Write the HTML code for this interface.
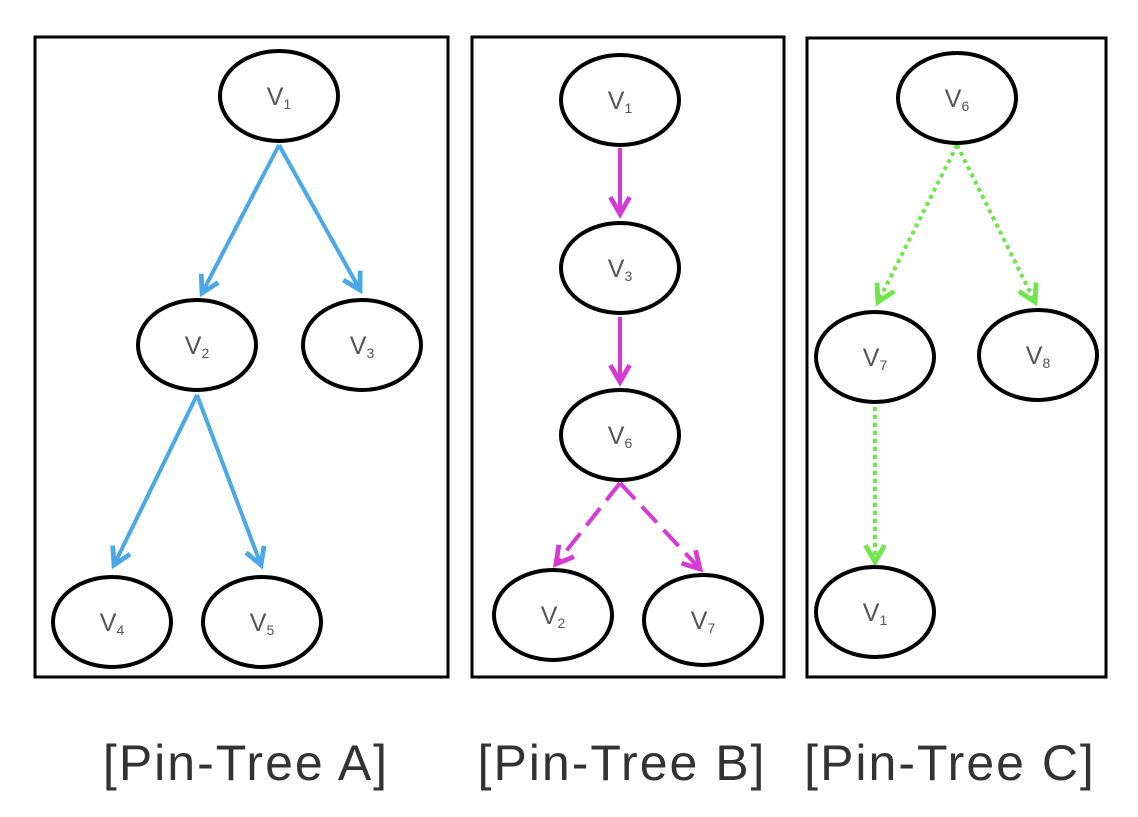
<!DOCTYPE html>
<html><head><meta charset="utf-8"><style>
html,body{margin:0;padding:0;background:#fff;}
svg{display:block;}
</style></head><body>
<svg width="1138" height="817" viewBox="0 0 1138 817" xmlns="http://www.w3.org/2000/svg">
<defs>
<marker id="ab" viewBox="0 0 10 10" refX="8" refY="5" markerWidth="6" markerHeight="6" orient="auto"><path d="M1,1 L8,5 L1,9" fill="none" stroke="#4aa8e8" stroke-width="2"/></marker>
<marker id="am" viewBox="0 0 10 10" refX="8" refY="5" markerWidth="6" markerHeight="6" orient="auto"><path d="M1,1 L8,5 L1,9" fill="none" stroke="#d63ad6" stroke-width="2"/></marker>
<marker id="ag" viewBox="0 0 10 10" refX="8" refY="5" markerWidth="6" markerHeight="6" orient="auto"><path d="M1,1 L8,5 L1,9" fill="none" stroke="#6ee64a" stroke-width="2"/></marker>
</defs>
<g fill="none" stroke="#000" stroke-width="3">
<rect x="35" y="37" width="413" height="640"/>
<rect x="472" y="37" width="312" height="640"/>
<rect x="807" y="38" width="299" height="639"/>
</g>
<g stroke="#4aa8e8" stroke-width="4" fill="none" marker-end="url(#ab)">
<line x1="279" y1="145" x2="202" y2="293"/>
<line x1="279" y1="145" x2="360" y2="290"/>
<line x1="197" y1="395" x2="114" y2="565"/>
<line x1="197" y1="395" x2="261" y2="565"/>
</g>
<g stroke="#d63ad6" stroke-width="4" fill="none" marker-end="url(#am)">
<line x1="620" y1="148" x2="620" y2="214"/>
<line x1="620" y1="317" x2="620" y2="382"/>
<line x1="620" y1="483" x2="556" y2="564" stroke-dasharray="22,10"/>
<line x1="620" y1="483" x2="700" y2="569" stroke-dasharray="22,10"/>
</g>
<g stroke="#6ee64a" stroke-width="4" fill="none" marker-end="url(#ag)" stroke-dasharray="4,4">
<line x1="957" y1="145" x2="878" y2="302"/>
<line x1="957" y1="145" x2="1035" y2="302"/>
<line x1="875" y1="407" x2="875" y2="562"/>
</g>
<g fill="#fff" stroke="#000" stroke-width="4">
<ellipse cx="279" cy="96" rx="59" ry="45"/>
<ellipse cx="197" cy="345" rx="59" ry="45"/>
<ellipse cx="362" cy="345" rx="59" ry="45"/>
<ellipse cx="112" cy="622" rx="59" ry="45"/>
<ellipse cx="262" cy="622" rx="59" ry="45"/>
<ellipse cx="620" cy="100" rx="59" ry="45"/>
<ellipse cx="620" cy="268" rx="59" ry="45"/>
<ellipse cx="620" cy="435" rx="59" ry="45"/>
<ellipse cx="553" cy="615" rx="59" ry="45"/>
<ellipse cx="703" cy="620" rx="59" ry="45"/>
<ellipse cx="957" cy="98" rx="59" ry="45"/>
<ellipse cx="875" cy="357" rx="59" ry="45"/>
<ellipse cx="1038" cy="355" rx="59" ry="45"/>
<ellipse cx="875" cy="612" rx="59" ry="45"/>
</g>
<g font-family="Liberation Sans, sans-serif" font-size="25" fill="#555" text-anchor="middle">
<text x="279" y="105">V<tspan font-size="14" dy="4">1</tspan></text>
<text x="197" y="354">V<tspan font-size="14" dy="4">2</tspan></text>
<text x="362" y="354">V<tspan font-size="14" dy="4">3</tspan></text>
<text x="112" y="631">V<tspan font-size="14" dy="4">4</tspan></text>
<text x="262" y="631">V<tspan font-size="14" dy="4">5</tspan></text>
<text x="620" y="109">V<tspan font-size="14" dy="4">1</tspan></text>
<text x="620" y="277">V<tspan font-size="14" dy="4">3</tspan></text>
<text x="620" y="444">V<tspan font-size="14" dy="4">6</tspan></text>
<text x="553" y="624">V<tspan font-size="14" dy="4">2</tspan></text>
<text x="703" y="629">V<tspan font-size="14" dy="4">7</tspan></text>
<text x="957" y="107">V<tspan font-size="14" dy="4">6</tspan></text>
<text x="875" y="366">V<tspan font-size="14" dy="4">7</tspan></text>
<text x="1038" y="364">V<tspan font-size="14" dy="4">8</tspan></text>
<text x="875" y="621">V<tspan font-size="14" dy="4">1</tspan></text>
</g>
<g font-family="Liberation Sans, sans-serif" font-size="50" fill="#333" text-anchor="middle" letter-spacing="2">
<text x="246" y="780">[Pin-Tree A]</text>
<text x="622" y="780">[Pin-Tree B]</text>
<text x="950" y="780">[Pin-Tree C]</text>
</g>
</svg>
</body></html>
